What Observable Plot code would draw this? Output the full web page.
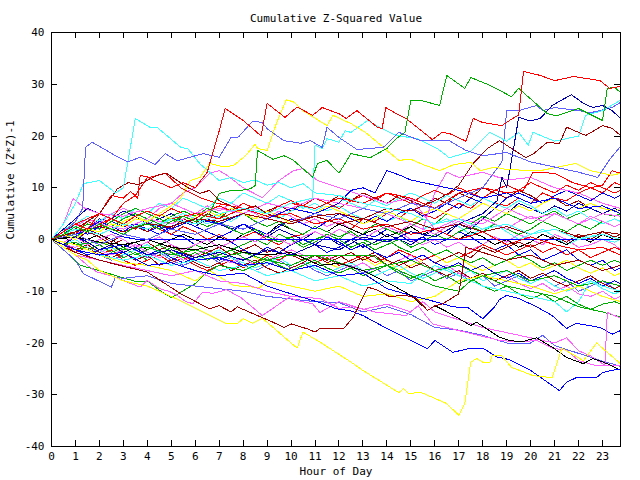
<!DOCTYPE html>
<html><head><meta charset="utf-8">
<script src="https://cdn.jsdelivr.net/npm/d3@7"></script>
<script src="https://cdn.jsdelivr.net/npm/@observablehq/plot@0.6"></script>
<style>body{margin:0;background:#fff}</style>
</head><body><div id="chart"></div>
<script>
const xTicks = [0,1,2,3,4,5,6,7,8,9,10,11,12,13,14,15,16,17,18,19,20,21,22,23];
const yTicks = [-40,-30,-20,-10,0,10,20,30,40];
const halfHours = [0,0.5,1,1.5,2,2.5,3,3.5,4,4.5,5,5.5,6,6.5,7,7.5,8,8.5,9,9.5,10,10.5,11,11.5,12,12.5,13,13.5,14,14.5,15,15.5,16,16.5,17,17.5,18,18.5,19,19.5,20,20.5,21,21.5,22,22.5,23,23.5,23.75];

// core series sampled every half hour
const c01 = [0,1.5,3,2,4,3.5,2.5,3, 1.5,2.5,1,0.5,-1,0,-1.5,-0.5, -2,-1,-2.5,-1.5,-3,-2,-1,-2.5, -1.5,0,1,0.5,2,1,-0.5,0.5, -1,0,1.5,0.5,-1,-2,-1,-3, -2,-4,-3,-2,-4,-5,-4,-6, -5.5];
const c02 = [0,2,1,3.5,2.5,4,3,2, 3.5,2,1,2.5,1.5,0,1,-0.5, 0.5,1.5,0,-1,0.5,1,2.5,1.5, 3,2,4,3.5,5,4,6,5, 4,5.5,7,6,8,7,6.5,8, 7,9,8,7.5,9,10,9,11, 10.5];
const c03 = [0,-1,-2,-1.5,-3,-2,-3.5,-2.5, -4,-3,-1.5,-2.5,-1,-2,-3,-2, -1,0,-1,1,0,-1.5,-0.5,1, 0,2,1,3,2,1,2.5,4, 3,5,4,3,4.5,3.5,5,4, 3,4.5,5.5,4,5,6,5,4.5, 5];
const c04 = [0,1,2.5,4,3,5,6,5, 4,6,7,6,5,6.5,5.5,7, 6,5,4,5.5,4.5,3,4,2.5, 3.5,2,1,2,0.5,1.5,0,-1, 0,-1.5,-0.5,-2,-1,0.5,-0.5,1, 0,-1,1,0,-1.5,-1,0,-1, -2];
const c05 = [0,2,3,4.5,3.5,5,4,6, 5,7,6,8,7,6,8,7, 9,8,7,8.5,7.5,6,7,5.5, 6.5,5,4,5,3.5,4.5,3,2, 3,4,2.5,1,2,3,1.5,0, 1,2,0.5,-1,0,1,0,-0.5, 0];
const c06 = [0,-1,0.5,2,1,-0.5,1,2.5, 1.5,3,2,4,3,5,4,6, 5,4,5.5,6.5,5.5,7,8,7, 8.5,7.5,9,8,7,8.5,7.5,6.5, 8,7,9,8,10,9,8,9.5, 8.5,7,8,6.5,7.5,6,5,6, 5.5];
const c07 = [0,0.5,-1,0,1,0,-1.5,-0.5, -2,-1,0,1,0,-1,0.5,-0.5, 1,2,1,3,2,1,2.5,1.5, 3,2,1,2,0.5,1.5,2.5,1, 2,1,0,1.5,0.5,-1,0,-1.5, -0.5,1,0,-1,0.5,-0.5,1,0, 0.5];
const c08 = [0,-1,-2,-1,0,-1.5,-2.5,-1.5, -3,-2,-1,-2.5,-3.5,-2.5,-4,-3, -2,-3.5,-4.5,-3.5,-5,-4,-3,-4.5, -5.5,-4.5,-3.5,-5,-4,-6,-5,-4, -3,-4.5,-3.5,-5,-6,-5,-4,-5.5, -4.5,-6,-5,-4,-5.5,-6.5,-5.5,-7, -6.5];
const c09 = [0,2,4,6,5,4,5.5,4.5, 3,4,5,3.5,2.5,4,3,2, 3,1.5,0.5,2,1,0,1.5,0.5, -1,0,-1.5,-0.5,1,0,-1,0.5, 2,1,3,2,4,6,5,7, 6,5,6.5,5.5,7,6,5,6, 5.5];
const c10 = [0,-1.5,-2.5,-1.5,-3,-4,-3,-2, -3.5,-2.5,-4,-5,-4,-3,-4.5,-3.5, -5,-6,-5,-4,-5.5,-4.5,-6,-7, -6,-5,-6.5,-5.5,-7,-6,-8,-7, -6,-7.5,-6.5,-8,-7,-9,-8,-7, -8.5,-7.5,-9,-8,-10,-9,-8,-9.5, -9];
const c11 = [0,-1,-2.5,-1.5,-3,-2,-4,-5, -4,-3,-4.5,-3.5,-5,-6,-5,-4, -5.5,-4.5,-3,-4,-2.5,-3.5,-4.5,-3.5, -5,-4,-3,-4.5,-3.5,-2,-3,-4, -3,-2,-3.5,-2.5,-1,-2,-3,-2, -1,-2.5,-1.5,-3,-2,-3.5,-2.5,-1.5, -2];
const c12 = [0,1.5,0.5,2,3.5,2.5,4,5, 4,3,4.5,5.5,4.5,6,5,4, 5,3.5,2.5,3.5,2,1,2.5,1.5, 0.5,1.5,0,-1,0,-1.5,-2.5,-1.5, -3,-2,-3.5,-4.5,-3.5,-5,-4,-3, -4,-5.5,-4.5,-6,-5,-4,-5,-4, -4.5];
const c13 = [0,-1,0,-1.5,-2.5,-1.5,-3,-2, -1,-2.5,-3.5,-2.5,-4,-3,-2,-3.5, -4.5,-5.5,-4.5,-3.5,-5,-4,-5.5,-6.5, -5.5,-4.5,-6,-7,-6,-5,-6.5,-7.5, -6.5,-5.5,-7,-6,-8,-7,-6,-7.5, -8.5,-7.5,-9,-10,-9,-8,-9.5,-10.5, -10];
const c14 = [0,-0.5,-2,-1,-2.5,-3.5,-2.5,-4, -3,-5,-4,-3,-4.5,-5.5,-4.5,-6, -5,-4,-5.5,-6.5,-5.5,-4.5,-3,-4, -3,-4.5,-3.5,-2.5,-4,-5,-4,-3, -4.5,-3.5,-2.5,-3.5,-1.5,-2.5,-1.5,-0.5, -1.5,-0.5,0.5,-0.5,1,0,1.5,0.5, 1];
const c15 = [0,-1,-1.5,-0.5,-2,-3,-2,-1, -2.5,-3.5,-2.5,-4,-3,-2,-3.5,-4.5, -3.5,-5,-4,-3,-2,-3,-4,-3, -4.5,-5.5,-4.5,-6,-5,-4,-3,-5, -6,-5,-6.5,-7.5,-6.5,-8,-7,-8.5, -9.5,-8.5,-10,-9,-10.5,-11,-10,-11.5, -11];
const c16 = [0,1,3,2,3.5,2.5,1.5,3, 2,1,2.5,3.5,2.5,1.5,0.5,1.5, 3,2,1,2.5,4,3,2,3.5, 5,4,3,4.5,3.5,5,6,4.5, 5.5,7,6,8,7,6,8,9, 8,7,8.5,9.5,8.5,7.5,9,8, 8.5];
const c17 = [0,1,2,1.5,3,2,3.5,4.5, 3.5,5,4,3,4.5,5.5,4.5,6, 5,4,5.5,4.5,3,4,5,6.5, 5.5,4.5,3,4,5.5,4.5,3.5,5, 6,5,4,5.5,7,6,5,6.5, 5.5,7,8,7,6,7,6,5.5, 6];
const c18 = [0,0.5,1.5,3,2,3.5,5,6, 5,4,3,4.5,3.5,2.5,3.5,2, 1,2,0.5,-0.5,0.5,-1,0,1, 0,-1.5,-0.5,-2,-1,0,-1.5,-0.5, 1,0,1.5,2.5,1.5,3,2,1, 2,3.5,2.5,1.5,3,2,3.5,2.5, 3];
const c19 = [0,1,2.5,1.5,3,4,3,4.5, 5.5,4.5,6,5,4,5.5,6.5,5.5, 7,6,5,6.5,7.5,6.5,8,7, 6,7.5,8.5,7.5,9,8,7,8.5, 9.5,8.5,10,9,8,9.5,10.5,9.5, 11,10,9,10.5,9.5,11,10,9, 9.5];
const c20 = [0,-1,-2,-3,-2,-1,-2.5,-1.5, -3,-2,-3.5,-4.5,-3.5,-2.5,-4,-3, -2,-3,-1.5,-2.5,-1,0,-1,0.5, -0.5,-2,-1,-2.5,-3.5,-2.5,-4,-3, -4.5,-5.5,-4.5,-6,-5,-6.5,-7.5,-6.5, -8,-7,-6,-7.5,-8.5,-7.5,-9,-8, -8.5];
const c21 = [0,1,0,1.5,0.5,-1,0,-1.5, -0.5,-2,-1,-2.5,-3.5,-2.5,-1.5,-3, -2,-1,-2.5,-1.5,-3,-4,-3,-4.5, -3.5,-2.5,-4,-3,-5,-4,-5.5,-4.5, -6,-7,-6,-7.5,-6.5,-8,-7,-6, -7.5,-6.5,-8,-9,-8,-7,-8.5,-9.5, -9];
const c22 = [0,1.5,2.5,1.5,3,2,1,2.5, 3.5,2.5,4,5,4,3,4.5,3.5, 5,6,5,4,5.5,6.5,5.5,7, 8,7,6,7.5,6.5,8,9,8, 7,8.5,7.5,6.5,8,7,6,7.5, 6.5,5,6,4.5,5.5,4,3,4, 3.5];
const c23 = [0,-0.5,0.5,-1,0,1,0,-1.5, -0.5,0.5,-1,-2,-1,0,-1.5,-0.5, 0.5,-0.5,1,0,-1,0.5,1.5,0.5, 2,1,0,1.5,2.5,1.5,3,2, 1,2.5,3.5,2.5,4,3,2,3.5, 4.5,3.5,5,4,3,4.5,3.5,2.5, 3];
const c24 = [0,-1,-0.5,-2,-1,-2.5,-1.5,-3, -2,-1,-2.5,-3.5,-2.5,-4,-3,-2, -3.5,-4.5,-3.5,-5,-6,-5,-4,-5.5, -6.5,-5.5,-7,-6,-5,-6.5,-7.5,-6.5, -8,-7,-8.5,-7.5,-9,-10,-9,-10.5, -11.5,-10.5,-12,-11,-12.5,-13.5,-12.5,-12, -12.5];
const coreSeries = [c01,c02,c03,c04,c05,c06,c07,c08,c09,c10,c11,c12,c13,c14,c15,c16,c17,c18,c19,c20,c21,c22,c23,c24];
const coreColors = ["#0000ff","#ff0000","#00b000","#ff60ff","#40ffff","#a00000","#000000","#ffff00","#0000b0","#6060ff","#ff0000","#00b000","#40ffff","#a00000","#ff60ff","#0000ff","#ffff00","#00b000","#ff0000","#0000ff","#a00000","#40ffff","#ff60ff","#00b000"];

// distinctive series as [hour, value] pairs
const sE = [[0,0],[0.5,1.5],[1,3],[1.5,2],[2,5],[2.5,4],[3,7],[3.5,8.5],[4,12],[4.5,11],[5,10],[5.5,11],[6,10],[6.5,13],[7,21],[7.25,25.3],[8,23],[8.75,20],[9,26.3],[9.75,23.6],[10.25,25.6],[10.9,24],[11.3,25.5],[12,24.3],[12.3,23.4],[12.75,24.9],[13.6,21.7],[13.8,21.4],[13.95,25.5],[14.4,24.3],[14.8,23.4],[15.9,19.3],[16.3,20.7],[16.6,20.5],[17.3,19],[17.6,23.4],[18,22.6],[18.8,22],[19.25,23.4],[19.5,24],[19.7,32.5],[20.4,31.7],[21,30.7],[21.8,31.5],[22.9,30.7],[23.3,29.2],[23.75,29.6]];
const sD = [[0,0],[0.5,1],[1,2.5],[1.5,1.5],[2,3],[2.5,2],[3,1],[3.5,2.5],[4,3],[4.5,2],[5,3.5],[5.5,4.5],[6,3.5],[6.6,5],[7,8.9],[7.5,9.5],[7.9,9.5],[8.3,9.8],[8.5,10.4],[8.6,17.2],[9.25,15.5],[9.7,16.2],[10.1,15.3],[10.9,12],[11.1,14.7],[11.5,15.3],[12,12.8],[12.5,16.6],[13.3,15.8],[14,17.6],[14.4,19.5],[14.75,20.7],[15,26.9],[15.4,26.9],[16.2,25.9],[16.5,31.7],[17.25,29.2],[17.5,31.3],[18.3,29.8],[19.2,27.6],[19.5,29.2],[20.7,24.3],[21.1,23.9],[22,25.3],[23,23],[23.2,29.2],[23.5,29.4],[23.75,28.4]];
const sB = [[0,0],[0.5,1.5],[1,3.5],[1.3,6],[1.42,17.8],[1.7,18.8],[2.67,16.2],[3.2,15],[3.7,15.9],[4.33,14.5],[4.75,16.6],[5.25,15.2],[6.33,16.6],[7,15.9],[7.5,19.8],[7.8,19.8],[8.4,22.9],[8.8,22.6],[9,21.4],[9.7,19.1],[10.4,18.6],[10.8,19.1],[11.3,17.8],[11.5,21.7],[12,19.7],[12.75,17.4],[13.85,17.8],[14.5,20.7],[15.4,19.1],[16.6,19.1],[17.3,17.2],[18,16.2],[19,16.8],[20,15],[21,14],[22,13],[22.8,12],[23.3,15.5],[23.75,18]];
const sA = [[0,0],[0.5,3],[1,7],[1.33,10.8],[2,11.4],[2.67,9],[3,10],[3.5,23.4],[4.1,21.7],[4.4,21.7],[5.4,17.8],[5.7,17.5],[6.2,14.6],[7,11.4],[7.5,12],[8,11],[8.5,11.5],[9,10.5],[9.5,11],[10,10],[10.5,10.8],[11,9],[12,8.5],[13,7],[14,6],[15,5],[16,3],[17,4],[18,2],[19,3],[20,1],[21,2],[22,0],[23,1],[23.75,0]];
const sC = [[0,0],[0.5,1],[1,0],[1.5,2],[2,1.5],[2.5,3],[3,2.5],[3.5,4],[4,3.5],[4.5,5],[5,6.5],[5.4,8.1],[5.8,11.4],[6.2,12],[6.6,14.7],[7.2,14],[7.6,14.3],[8.1,16.2],[8.5,18.4],[8.6,17.6],[9,17.2],[9.4,22.6],[9.8,27],[10.1,26.6],[10.5,24.9],[11.5,22],[11.75,24],[12.5,22.4],[13.1,20.7],[13.6,18.8],[14.1,16.8],[14.5,15.3],[15,15.5],[15.5,14.5],[16.2,13.3],[16.8,14.5],[17.5,14.9],[17.9,13.3],[18.5,14],[19,13.5],[20.4,13.3],[21.9,14.7],[22.5,13.3],[23.4,12.4],[23.75,12.8]];
const sG = [[0,0],[0.5,-1],[1,0.5],[1.5,-0.5],[2,-2],[2.5,-1],[3,-2.5],[3.5,-1.5],[4,-3],[5,-2],[6,-3.5],[7,-2.5],[8,-4],[9,-2],[10,-3],[11,-1],[12,-2],[13,0.5],[14,-0.5],[15,1.5],[16,0.5],[17,3],[18,5],[18.6,7.5],[18.8,12],[19,10],[19.3,18],[19.5,23.6],[20,22.9],[20.4,23.4],[20.9,25.9],[21.7,28],[22.2,26.3],[22.6,25.5],[23,25.9],[23.4,24.9],[23.75,23.4]];
const sF = [[0,0],[1,1.5],[2,2.5],[3,1.5],[4,3],[5,2.5],[6,4],[7,3.5],[8,5],[9,4],[10,3],[11,4.5],[12,5],[13,4],[14,6],[15,5.5],[16,7.5],[16.6,9],[17,10.5],[17.6,14.7],[18.2,17.6],[18.7,19.1],[19.8,15.8],[20.1,16.5],[20.7,18.8],[21.2,18.5],[21.5,21.7],[22.3,20.1],[23,22],[23.4,21.5],[23.75,20.1]];
const sCy2 = [[0,0],[1,2],[2,1],[3,3],[4,2],[5,4],[6,3],[7,5],[8,6],[9,5],[10,7],[10.9,8],[11,18.2],[11.3,17.6],[11.5,19.5],[12,18.8],[12.25,21],[12.5,20.7],[13.2,23],[13.8,21.4],[14.4,20.1],[15.25,19.5],[16.1,17.6],[16.6,15.8],[17.5,17],[18.3,20.7],[19,19],[19.5,20.7],[19.9,18.2],[20.1,20.7],[21,19],[22,20],[22.3,24],[23,24.9],[23.75,26.9]];
const sLb2 = [[0,0],[1,1],[2,-1],[3,1],[4,0],[5,2],[6,1],[7,3],[8,2],[9,4],[10,3],[11,5],[12,4],[13,6],[14,5],[15,7],[16,6],[17,8],[18,10],[18.8,15],[19,24.9],[19.5,24.9],[20.25,25.9],[20.5,24.9],[21,25.5],[22,24.9],[22.5,24.5],[23.4,25.5],[23.75,26.5]];
const sRm = [[0,0],[1,2],[2,1],[3,3],[4,2],[5,4],[6,5],[7,4],[8,6],[9,5],[10,7],[11,6],[12,8],[13,7],[14,9],[15,8],[16,6],[17,9],[18,10],[19,9],[19.7,9.5],[20.1,13],[21,12.8],[21.75,11],[22.5,10],[23,10.5],[23.4,13.3],[23.75,12.8]];
const sBm = [[0,0],[1,1],[2,2.5],[3,1.5],[4,3],[5,2],[6,4],[7,3],[8,5],[9,4],[10,6],[11,5],[12,7],[12.5,9.5],[13,10],[13.5,9],[14,13.3],[14.5,12.5],[15,11.5],[16,10.5],[17,9.5],[18,8],[19,9],[20,7],[21,8],[22,6],[23,6.5],[23.75,5]];
const sDr1 = [[0,0],[1,2],[2,5],[2.75,9.8],[3.2,11],[3.6,10.6],[4,11.4],[4.4,12.4],[4.8,12.8],[5.7,10],[6.2,8.9],[6.6,9.5],[7,7.5],[7.9,5.6],[8.5,6.5],[9,5],[10,3.5],[11,4.5],[12,3],[13,4],[14,2.5],[15,3.5],[16,2],[17,3],[18,1.5],[19,2.5],[20,1],[21,2],[22,0.5],[23,1.5],[23.75,1]];
const sR1 = [[0,0],[1,3],[2,5],[2.5,8.5],[3,8],[3.3,9.3],[3.6,8],[3.7,12.4],[4.1,12],[4.75,12.8],[5.4,10],[6.2,8.1],[6.9,7],[8,6],[9,4.5],[10,5],[11,3],[12,4],[13,2],[14,3],[15,1],[16,2],[17,0],[18,1.5],[19,-1],[20,0.5],[21,-1],[22,-2],[23,-1.5],[23.75,-3]];
const sM1 = [[0,0],[0.5,3],[0.9,7.9],[1.4,6],[2,5],[3,4.5],[4,6],[5,7],[5.5,9],[6,10],[6.6,12.8],[7,13.3],[7.3,12.5],[8,10],[8.8,8.1],[9.5,11.4],[10.1,13.3],[10.5,13.7],[11.1,11.4],[12,10],[13,8.5],[14,7],[15,8],[15.5,5],[16,2],[17,4],[18,3],[19,6],[20,4],[21,5],[22,3],[23,5],[23.75,4.5]];
const sM2 = [[0,0],[1,1],[2,3],[3,2],[4,4],[5,3],[6,5],[7,6],[8,5],[9,7],[10,6],[11,8],[12,7],[13,6],[14,5],[15,3],[15.5,2],[16,9],[16.5,13],[17,12],[18,13],[19,11.5],[20,12],[21,10],[22,9],[23,7],[23.75,6]];
const sL1 = [[0,0],[0.5,-1.5],[1,-3],[1.5,-4],[2,-6],[3,-8],[4,-9],[5,-11],[5.9,-13],[7.3,-16.3],[7.75,-16.3],[8,-15.3],[8.4,-16.2],[8.8,-15.2],[10.25,-21],[10.5,-17.9],[11.2,-19.8],[12.6,-24],[13,-25.3],[14.5,-29.6],[14.7,-28.8],[14.9,-29.8],[15.4,-29.5],[16.5,-31.7],[17,-34],[17.25,-31.7],[17.5,-23.7],[17.75,-23],[18,-23.7],[18.3,-23.7],[18.4,-22.4],[18.8,-22.5],[19.2,-24.7],[20.1,-26.3],[20.9,-26.7],[21.3,-21],[22.2,-23.4],[22.75,-20],[23.75,-24]];
const sL2 = [[0,0],[0.5,-1.5],[1,-2.5],[2,-4],[3.2,-5.4],[4,-6.3],[5.4,-10.5],[6.6,-13.4],[7,-12.8],[7.5,-14],[7.75,-13],[8.6,-14.7],[9.25,-16],[9.7,-17],[10,-16.3],[10.7,-17.3],[11,-17.9],[11.2,-17.2],[12.2,-17.2],[12.6,-15],[13.2,-9.2],[13.6,-9.8],[14.1,-11],[14.8,-10.8],[15.2,-11.3],[15.7,-13.7],[16,-12.8],[16.3,-12.5],[17,-10.5],[17.3,-1.5],[18,-2.5],[19,-4],[20,-3],[21,-5],[22,-4],[23,-6],[23.75,-5]];
const sL3 = [[0,0],[1,-2],[2,-3],[3,-2.5],[4,-5],[5,-4.5],[6,-6],[7,-7],[8,-6.5],[9,-9],[10,-10.5],[11.2,-12.2],[11.9,-13.4],[12.5,-13.8],[13,-14.7],[14,-17.2],[15,-19.5],[15.7,-21.1],[16,-19.5],[16.75,-21.8],[17.5,-21],[18,-21],[18.6,-22.7],[19.1,-23.2],[20,-25.3],[21.2,-29.2],[21.5,-27.6],[21.9,-26.7],[22.75,-26.7],[23,-25.7],[23.4,-25.3],[23.75,-25]];
const sL4 = [[0,0],[1,0.5],[2,-0.5],[3,-1],[4,0],[5,-1.5],[6,-2],[7,-1],[8,-2.5],[9,-3],[10,-2.5],[11.2,-5],[12,-4.6],[13,-6],[14.1,-8.5],[15,-10.8],[15.7,-13.7],[16,-12.8],[16.4,-13.7],[17.5,-16.6],[17.75,-16],[18.7,-18.9],[19.1,-19.5],[19.6,-19.8],[20.25,-19],[20.9,-20.8],[21.5,-22.8],[22.2,-24],[22.6,-23],[23.2,-24],[23.75,-25.3]];
const sL5 = [[0,0],[0.5,-1.5],[1,-3],[1.5,-5],[1.9,-6.3],[2.5,-7],[3.2,-8.3],[3.7,-9.2],[4,-7.9],[4.5,-9.5],[4.9,-10],[5.25,-10.8],[5.6,-12],[5.9,-12.4],[6.3,-10.2],[6.75,-10.4],[7.3,-9.7],[7.9,-11.2],[8.8,-14.7],[9.4,-12.8],[9.9,-11.2],[10.25,-11.8],[10.9,-12.4],[11.2,-14.1],[12,-12],[13,-13.5],[14,-12.5],[15,-14],[15.5,-12],[16,-14],[17,-15.5],[18,-17],[19,-18],[20,-19],[21,-20],[21.5,-19],[22,-21.5],[22.5,-22.5],[23,-24],[23.1,-24.3],[23.2,-14.1],[23.75,-15.2]];
const sL6 = [[0,0],[1,-3],[2,-4],[3,-5],[4,-6],[5,-7],[6,-6],[7,-8],[8,-8.5],[9,-10],[10,-11],[11.2,-11.4],[12,-13.3],[12.6,-13],[13.5,-14],[14.8,-14.7],[15.3,-12.8],[15.9,-16.3],[17,-17.6],[17.9,-18.6],[18.7,-19.5],[19.5,-19.8],[20.25,-19.5],[20.9,-21],[21.5,-21.4],[22,-23.4],[22.75,-24.4],[23.3,-24.4],[23.75,-24.4]];
const sL7 = [[0,0],[0.5,-2],[1,-4],[1.33,-6.6],[2.5,-9.2],[2.67,-7.3],[3,-7.5],[4,-7],[5,-8.5],[6,-9],[7,-9.5],[8,-10],[9,-11],[10,-11.5],[11,-12],[12,-12.2],[13,-14],[14,-13],[15,-14.5],[16,-17],[17,-17.5],[18,-18.5],[19,-20],[20,-20],[20.5,-18.5],[21,-20.5],[22,-22],[23,-23.5],[23.75,-24.5]];
const sL8 = [[0,0],[1,1],[2,-2],[3,-1],[4,-3],[5,-2],[6,-4],[7,-3.5],[8,-5],[9,-4.5],[10,-6],[11,-5],[12,-7],[13,-6.5],[14,-9.5],[15,-10.8],[16,-12],[16.75,-13],[17.4,-13.2],[18,-15.3],[18.5,-13],[18.7,-11.6],[19,-10.8],[19.5,-11.4],[20.25,-13],[20.9,-14.7],[21.5,-17.2],[21.9,-16.2],[22.9,-17],[23.4,-18.3],[23.75,-17.6]];
const sL9 = [[0,0],[0.5,-2],[1.2,-5],[2,-6],[2.9,-7.3],[3.6,-8.2],[4,-8],[4.5,-9.8],[5,-11.2],[5.4,-10.2],[6,-8.5],[6.5,-6.3],[7,-5],[8,-6],[9,-4],[10,-5],[11,-3],[12,-4.5],[13,-6],[14,-5],[15,-7],[16,-9],[17,-10],[17.5,-8],[18,-7],[19,-9],[20,-10],[21,-11],[22,-13],[23,-14],[23.75,-15]];
const sL10 = [[0,0],[1,-2],[2,-3],[3,-4],[4,-3],[5,-5],[6,-4],[7,-6],[8,-5],[9,-7],[10,-6],[11,-8],[12,-7],[13,-9],[14,-8],[15,-8.5],[16,-5],[17,-7],[18,-9],[19,-10],[20,-11],[21,-12],[21.5,-14],[22,-12],[22.5,-8],[23,-9],[23.75,-10]];
const sL11 = [[0,0],[1,-1],[2,-3],[3,-4.5],[4,-5],[5,-6],[6,-8],[6.6,-6],[7.6,-8.9],[8.7,-9.3],[9,-8],[10,-9],[11,-10],[12,-9],[13,-11],[14,-10.5],[15,-12],[16,-11],[17,-8],[18,-7],[19,-8],[20,-9],[21,-10.5],[22,-9],[23,-11],[23.75,-12]];
const sFlatB = [[0,0],[0.5,1],[1,2],[1.5,1],[2,2.5],[2.5,1.5],[3,0.5],[3.6,0],[23.75,0]];
const sFlatG = [[0,0],[1,-1],[2,-0.5],[3,-2],[4,-1.5],[5,-3],[6,-2],[7,-3.5],[8,-2.5],[9,-4],[9.8,-3.1],[13.4,-3.1],[14,-5],[15,-4],[16,-6],[17,-5],[18,-7],[19,-6],[20,-8],[21,-7],[22,-9],[23,-8],[23.75,-9]];
const pairSeries = [sFlatB,sFlatG,sL11,sL10,sL9,sL8,sL7,sL6,sL5,sL4,sL3,sL2,sL1,sM2,sM1,sR1,sDr1,sBm,sRm,sLb2,sCy2,sF,sG,sC,sA,sB,sD,sE];
const pairColors = ["#0000ff","#00b000","#ffff00","#40ffff","#00b000","#0000ff","#6060ff","#ff60ff","#ff60ff","#000000","#0000ff","#a00000","#ffff00","#ff60ff","#ff60ff","#ff0000","#a00000","#0000ff","#ff0000","#6060ff","#40ffff","#a00000","#0000b0","#ffff00","#40ffff","#6060ff","#00b000","#ff0000"];

const rows = [];
coreSeries.forEach((s, i) => s.forEach((v, j) => rows.push({id: "c" + i, color: coreColors[i], t: halfHours[j], v})));
pairSeries.forEach((s, i) => s.forEach(([t, v]) => rows.push({id: "p" + i, color: pairColors[i], t, v})));

const W = 640, H = 480, mL = 51, mR = 20, mT = 32, mB = 34;
const innerW = W - mL - mR, innerH = H - mT - mB;
const chart = Plot.plot({
  width: W, height: H,
  marginLeft: mL, marginRight: mR, marginTop: mT, marginBottom: mB,
  style: {fontFamily: "'DejaVu Sans Mono', monospace", fontSize: "11px", background: "#fff", color: "#000", overflow: "visible"},
  x: {domain: [0, 23.75], ticks: xTicks, tickSize: 0, tickPadding: 6, tickFormat: d => String(d), label: null},
  y: {domain: [-40, 40], ticks: yTicks, tickSize: 0, tickPadding: 7, tickFormat: d => String(d), label: null},
  color: {type: "identity"},
  marks: [
    Plot.line(rows, {x: "t", y: "v", z: "id", stroke: "color", strokeWidth: 1, shapeRendering: "crispEdges"}),
    Plot.frame({stroke: "#000", shapeRendering: "crispEdges"}),
    Plot.tickX(xTicks, {x: d => d, insetTop: innerH - 6, stroke: "#000", shapeRendering: "crispEdges"}),
    Plot.tickX(xTicks, {x: d => d, insetBottom: innerH - 6, stroke: "#000", shapeRendering: "crispEdges"}),
    Plot.tickY(yTicks, {y: d => d, insetRight: innerW - 6, stroke: "#000", shapeRendering: "crispEdges"}),
    Plot.tickY(yTicks, {y: d => d, insetLeft: innerW - 6, stroke: "#000", shapeRendering: "crispEdges"}),
    Plot.text(["Cumulative Z-Squared Value"], {text: d => d, frameAnchor: "top", dy: -18, fill: "#000"}),
    Plot.text(["Hour of Day"], {text: d => d, frameAnchor: "bottom", dy: 28, fill: "#000"}),
    Plot.text(["Cumulative (Z*Z)-1"], {text: d => d, frameAnchor: "left", dx: -41, rotate: -90, fill: "#000"})
  ]
});
document.getElementById("chart").append(chart);
</script>
</body></html>
